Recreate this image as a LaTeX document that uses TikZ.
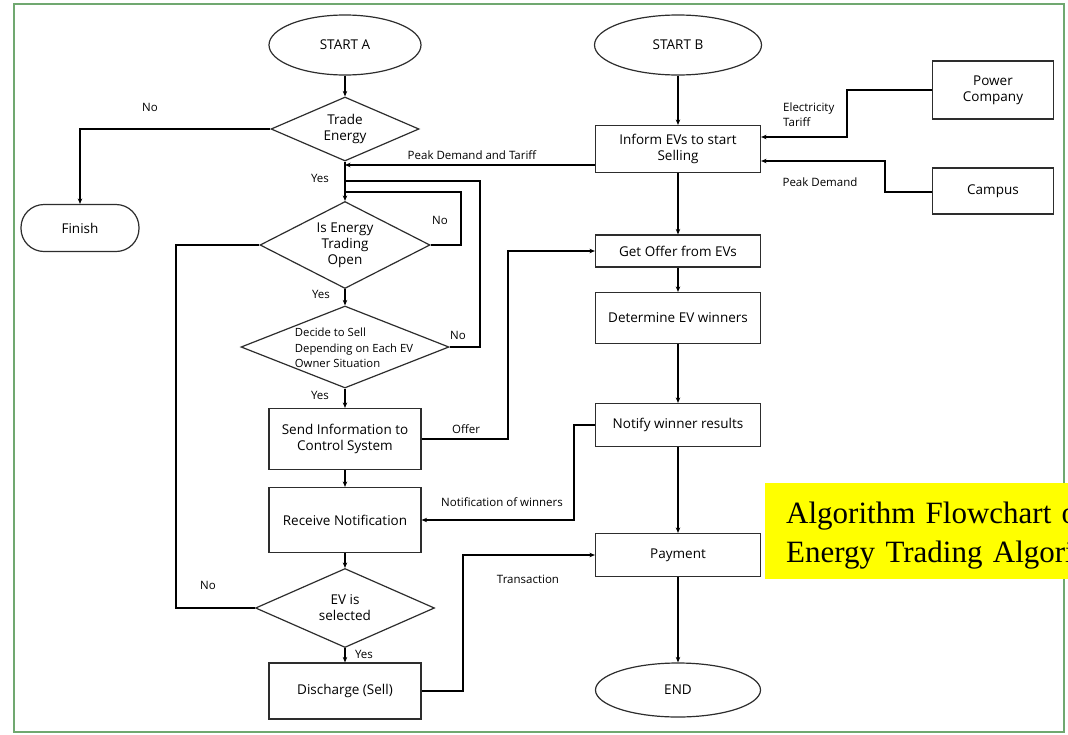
\documentclass[tikz,border=0pt]{standalone}
\usepackage{fontspec}
\setmainfont{Open Sans}
\newfontfamily\capfont{Liberation Serif}
\usetikzlibrary{shapes.geometric,arrows.meta}
\definecolor{framegreen}{RGB}{112,168,112}
\definecolor{shapeline}{RGB}{45,45,45}
\definecolor{noteyellow}{RGB}{255,255,0}
\tikzset{
  txt/.style={font=\fontsize{13.5}{15.8}\selectfont, align=center},
  lbl/.style={font=\fontsize{11.5}{15}\selectfont, align=left, inner sep=0pt},
  base/.style={draw=shapeline, line width=1.2pt, inner sep=1pt, txt},
  procbox/.style={base, rectangle, minimum width=152pt, minimum height=#1},
  rbox/.style={base, rectangle, minimum width=165pt, minimum height=#1},
  srcbox/.style={base, rectangle, minimum width=121pt, minimum height=#1},
  terminal/.style={base, ellipse, minimum width=#1, minimum height=60pt},
  decision/.style={draw=shapeline, line width=1.2pt, diamond, inner sep=0pt, aspect=2},
  flow/.style={line width=1.4pt, draw=black},
  arr/.style={flow, -{Stealth[length=5.5pt,width=4.5pt]}},
}
\begin{document}
\begin{tikzpicture}[x=1pt,y=-1pt]
\useasboundingbox (0,0) rectangle (1068,734);
\fill[white] (0,0) rectangle (1068,734);
\draw[framegreen, line width=1.6pt] (14,4) rectangle (1064,732);

% ---------------- left column: EV owner side ----------------
\node[terminal=152pt] (startA) at (345,45) {START A};
\node[decision, minimum width=148pt, minimum height=64pt,
      label={[txt]center:Trade\\Energy}] (trade) at (345,129) {};
\node[base, rectangle, rounded corners=23pt, minimum width=118pt, minimum height=47pt] (finish) at (80,228) {Finish};
\node[decision, minimum width=170pt, minimum height=87pt,
      label={[txt]center:Is Energy\\Trading\\Open}] (open) at (345,245) {};
\node[decision, minimum width=208pt, minimum height=82pt,
      label={[font=\fontsize{11.3}{15.5}\selectfont, align=left, xshift=9pt, yshift=-1pt]center:Decide to Sell\\Depending on Each EV\\Owner Situation}] (decide) at (345,347) {};
\node[procbox=61pt] (send) at (345,439) {Send Information to\\Control System};
\node[procbox=65pt] (receive) at (345,520) {Receive Notification};
\node[decision, minimum width=179pt, minimum height=79pt,
      label={[txt]center:EV is\\selected}] (evsel) at (345,608) {};
\node[procbox=56pt] (discharge) at (345,691) {Discharge (Sell)};

% ---------------- right column: control system ----------------
\node[terminal=167pt] (startB) at (678,45) {START B};
\node[rbox=47pt] (inform) at (678,149) {Inform EVs to start\\Selling};
\node[rbox=32pt] (offer) at (678,251) {Get Offer from EVs};
\node[rbox=51pt] (determine) at (678,318) {Determine EV winners};
\node[rbox=43pt] (notify) at (678,425) {Notify winner results};
\node[rbox=43pt] (payment) at (678,555) {Payment};
\node[base, ellipse, minimum width=165pt, minimum height=54pt] (end) at (678,690) {END};
\node[srcbox=58pt] (power) at (993,90) {Power\\Company};
\node[srcbox=46pt] (campus) at (993,191) {Campus};

% ---------------- junction points ----------------
\coordinate (pdt) at (345,165);
\coordinate (loopIn) at (345,192);
\coordinate (loopOut) at (345,181);

% ---------------- connectors, left column ----------------
\draw[arr] (startA) -- (trade);
\draw[arr] (trade.west) -| (finish.north);
\draw[arr] (trade.south) -- (open.north);
\draw[arr] (inform.west |- pdt) -- (pdt);
\draw[flow] (open.east) -- (461,245) -- (461,192) -- (loopIn);
\draw[flow] (decide.east) -- (480,347) -- (480,181) -- (loopOut);
\draw[arr] (open.south) -- (decide.north);
\draw[arr] (decide.south) -- (send.north);
\draw[arr] (send.east) -- (508,439) -- (508,251) -- (offer.west);
\draw[arr] (send.south) -- (receive.north);
\draw[arr] (receive.south) -- (evsel.north);
\draw[flow] (evsel.west) -- (176,608) -- (176,245) -- (open.west);
\draw[arr] (evsel.south) -- (discharge.north);
\draw[arr] (discharge.east) -- (463,691) -- (463,555) -- (payment.west);

% ---------------- connectors, right column ----------------
\draw[arr] (startB) -- (inform);
\draw[arr] (inform) -- (offer);
\draw[arr] (offer) -- (determine);
\draw[arr] (determine) -- (notify);
\draw[arr] (notify) -- (payment);
\draw[arr] (payment) -- (end);
\draw[arr] (notify.west) -- (574,425) -- (574,520) -- (receive.east);
\draw[arr] (power.west) -- (847,90) -- (847,137) -- (inform.east |- 0,137);
\draw[arr] (campus.west |- 0,192) -- (885,192) -- (885,161) -- (inform.east |- 0,161);

% ---------------- connector labels ----------------
\node[lbl] (lNo1) at (150,107) {No};
\node[lbl] (lYes1) at (320,178) {Yes};
\node[lbl] (lPdt) at (472,155) {Peak Demand and Tariff};
\node[lbl] (lNo2) at (440,220) {No};
\node[lbl] (lYes2) at (321,294) {Yes};
\node[lbl] (lNo3) at (458,335) {No};
\node[lbl] (lYes3) at (320,395) {Yes};
\node[lbl] (lOffer) at (466,429) {Offer};
\node[lbl] (lNotif) at (502,502) {Notification of winners};
\node[lbl] (lNo4) at (208,585) {No};
\node[lbl] (lYes4) at (364,654) {Yes};
\node[lbl] (lTrans) at (528,579) {Transaction};
\node[lbl, anchor=west] (lTariff) at (783,115) {Electricity\\Tariff};
\node[lbl] (lPeak) at (820,182) {Peak Demand};

% ---------------- caption note ----------------
\fill[noteyellow] (765,483) rectangle (1068,579);
\begin{scope}
\clip (0,0) rectangle (1068,734);
\node[anchor=west, inner xsep=21pt, inner ysep=0pt,
      align=left, text width=420pt, font=\capfont\fontsize{31}{39}\selectfont] (note) at (765,535)
  {Algorithm Flowchart of\\Energy Trading Algorithm};
\end{scope}
\end{tikzpicture}
\end{document}
